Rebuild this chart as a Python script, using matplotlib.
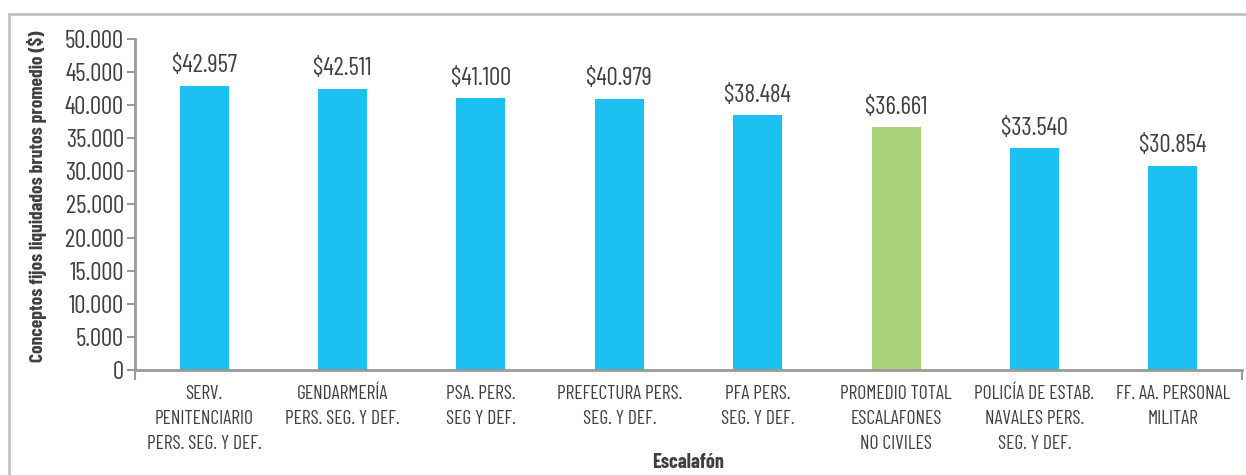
import matplotlib
matplotlib.use("Agg")
import matplotlib.pyplot as plt
from matplotlib import font_manager
from matplotlib.patches import Rectangle

categories = [
    "SERV.\nPENITENCIARIO\nPERS. SEG. Y DEF.",
    "GENDARMERÍA\nPERS. SEG. Y DEF.",
    "PSA. PERS.\nSEG Y DEF.",
    "PREFECTURA PERS.\nSEG. Y DEF.",
    "PFA PERS.\nSEG. Y DEF.",
    "PROMEDIO TOTAL\nESCALAFONES\nNO CIVILES",
    "POLICÍA DE ESTAB.\nNAVALES PERS.\nSEG. Y DEF.",
    "FF. AA. PERSONAL\nMILITAR",
]
values = [42957, 42511, 41100, 40979, 38484, 36661, 33540, 30854]
value_labels = ["$42.957", "$42.511", "$41.100", "$40.979", "$38.484", "$36.661", "$33.540", "$30.854"]
highlight = [False, False, False, False, False, True, False, False]
y_ticks = [0, 5000, 10000, 15000, 20000, 25000, 30000, 35000, 40000, 45000, 50000]
y_tick_labels = ["0", "5.000", "10.000", "15.000", "20.000", "25.000", "30.000", "35.000", "40.000", "45.000", "50.000"]
y_title = "Conceptos fijos liquidados brutos promedio ($)"
x_title = "Escalafón"

names = {f.name for f in font_manager.fontManager.ttflist}
FAM = "Roboto"
for cand in ["Barlow Condensed", "Roboto Condensed", "Fira Sans Condensed", "PT Sans Narrow",
             "Archivo Narrow", "Liberation Sans Narrow"]:
    if cand in names:
        FAM = cand
        break
plt.rcParams["font.family"] = [FAM, "DejaVu Sans"]

TXT = "#404040"
AX = "#9a9a9a"
BLUE = "#1dc1f1"
GREEN = "#abd37a"

W, H = 1246, 475
fig = plt.figure(figsize=(W / 100, H / 100), dpi=100)
ax = fig.add_axes([135 / W, 1 - 370 / H, (1242 - 135) / W, (370 - 39) / H])

x = list(range(len(values)))
colors = [GREEN if h else BLUE for h in highlight]
ax.bar(x, values, width=0.355, color=colors, zorder=2)
for xi, v, lab in zip(x, values, value_labels):
    ax.annotate(lab, (xi, v), xytext=(0, 6), textcoords="offset points",
                ha="center", va="bottom", fontsize=18, color=TXT)

ax.set_xlim(-0.5, len(values) - 0.5)
ax.set_ylim(0, 50000)
ax.set_yticks(y_ticks)
ax.set_yticklabels(y_tick_labels, fontsize=18, color=TXT)
ax.tick_params(axis="y", length=6, width=1.5, color=AX, pad=2)

ax.set_xticks([-0.5, len(values) - 0.5])
ax.set_xticklabels(["", ""])
ax.tick_params(axis="x", which="major", length=7, width=1.5, color=AX)
ax.set_xticks(x, minor=True)
ax.set_xticklabels(categories, minor=True, fontsize=14, color=TXT, linespacing=1.5)
ax.tick_params(axis="x", which="minor", length=0, pad=11)

for s in ["top", "right"]:
    ax.spines[s].set_visible(False)
for s in ["left", "bottom"]:
    ax.spines[s].set_color(AX)
    ax.spines[s].set_linewidth(2)

fig.text(37 / W, 1 - 196 / H, y_title, rotation=90, ha="center", va="center",
         fontsize=14, fontweight="bold", color=TXT)
fig.text(688 / W, 1 - 463 / H, x_title, ha="center", va="center",
         fontsize=14.5, fontweight="bold", color=TXT)

frame = Rectangle((9 / W, -0.1), 1.2, 1 - 14 / H + 0.1, transform=fig.transFigure,
                  fill=False, edgecolor="#c2c2c6", linewidth=2, zorder=0)
fig.patches.append(frame)

fig.savefig("out.png", dpi=100)
